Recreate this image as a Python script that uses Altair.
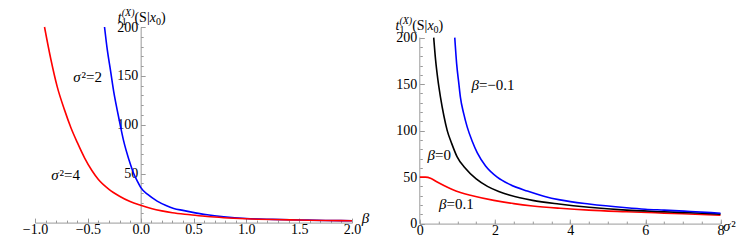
import altair as alt
import pandas as pd

# ---------------- data ----------------
# left panel: t1(S|x0) versus beta
beta_sigma2_2 = [-0.342, -0.315, -0.286, -0.255, -0.222, -0.19, -0.16, -0.11, -0.065, -0.03, 0.0,
                 0.07, 0.156, 0.24, 0.313, 0.4, 0.47, 0.63, 0.786, 1.0, 1.25, 1.5, 1.75, 2.0]
t_sigma2_2 = [200, 176, 156, 134, 115, 98, 83, 64, 50, 42, 36,
              28.5, 22, 17.5, 14.5, 12.5, 11, 8, 6, 4.2, 3.3, 2.7, 2.2, 1.9]
beta_sigma2_4 = [-0.91, -0.85, -0.79, -0.72, -0.66, -0.6, -0.53, -0.46, -0.4, -0.3, -0.2, -0.1, 0.0,
                 0.1, 0.2, 0.3, 0.47, 0.63, 0.786, 1.0, 1.25, 1.5, 1.75, 2.0]
t_sigma2_4 = [200, 167, 139, 115, 97, 82, 66, 53, 44, 34, 27, 21.5, 17.7,
              14.5, 12, 10, 8, 6.2, 5, 3.9, 3.1, 2.6, 2.2, 1.9]

# right panel: t1(S|x0) versus sigma^2
sigma2_beta_m01 = [0.93, 0.98, 1.04, 1.08, 1.17, 1.26, 1.4, 1.53, 1.75, 2.06, 2.4, 2.86, 3.3, 3.73,
                   4.5, 5.5, 6.0, 6.5, 7.2, 8.0]
t_beta_m01 = [200, 172, 150, 136, 118, 104, 88, 76, 62, 50, 42, 35, 29.5, 25.5,
              21, 17, 15.5, 14.5, 13, 11.2]
sigma2_beta_0 = [0.37, 0.42, 0.48, 0.55, 0.64, 0.73, 0.85, 0.99, 1.2, 1.5, 1.8, 2.1, 2.4, 3.0,
                 3.7, 4.5, 5.5, 6.5, 7.2, 8.0]
t_beta_0 = [200, 176, 155, 136, 116, 100, 86, 72, 60, 48, 40, 34.5, 30.5, 25,
            21, 17.5, 14.5, 12.8, 11.6, 10.2]
sigma2_beta_01 = [0.0, 0.15, 0.3, 0.45, 0.64, 0.85, 1.08, 1.4, 1.97, 2.5, 3.0, 3.73, 4.5, 5.5, 6.5, 8.0]
t_beta_01 = [50, 50, 48.5, 45, 41, 37, 33.5, 30, 25, 21.5, 19, 16.5, 14.5, 12.8, 11.3, 9]

# ticks
left_x_ticks = [-1.0, -0.5, 0.0, 0.5, 1.0, 1.5, 2.0]
left_x_minor = [round(-1.0 + 0.1 * i, 1) for i in range(31)]
left_y_ticks = [50, 100, 150, 200]
left_y_minor = list(range(10, 201, 10))
right_x_ticks = [0, 2, 4, 6, 8]
right_x_minor = [0.5 * i for i in range(17)]
right_y_ticks = [0, 50, 100, 150, 200]
right_y_minor = list(range(0, 201, 10))

# annotations (text, data position)
left_labels = [([("σ", True), ("²=2", False)], -0.501, 148.9),
               ([("σ", True), ("²=4", False)], -0.711, 48.4)]
right_labels = [([("β", True), ("=−0.1", False)], 1.947, 148.7),
                ([("β", True), ("=0", False)], 0.516, 73.4),
                ([("β", True), ("=0.1", False)], 0.971, 21.5)]

# ---------------- style ----------------
FONT = "Liberation Serif, Times New Roman, DejaVu Serif, serif"
GRAY = "#9a9a9a"
LW, LH = 317, 195.6
RW, RH = 300.7, 196.6
L_XDOM, L_YDOM = [-1.0, 2.0], [0, 200]
R_XDOM, R_YDOM = [0, 8], [0, 211.4]
L_X0 = LW * (0 - L_XDOM[0]) / (L_XDOM[1] - L_XDOM[0])

W_REG = {"0": .5, "1": .5, "2": .5, "4": .5, ".": .25, "=": .564, "−": .564, "(": .333, ")": .333,
         "S": .556, "|": .2, "²": .3}
W_IT = {"σ": .55, "β": .5, "t": .278, "x": .444, "X": .611, "(": .333, ")": .333}


def tw(s, italic, size):
    tab = W_IT if italic else W_REG
    return sum(tab.get(c, .5) for c in s) * size


def ax(orient, values, offset=0, labels=False, ticks=False, tick_size=0, domain=False, fmt=None, pad=0):
    kw = dict(orient=orient, values=values, offset=offset, labels=labels, ticks=ticks, tickSize=tick_size,
              domain=domain, domainColor=GRAY, domainWidth=1, tickColor=GRAY, tickWidth=1, grid=False,
              title=None, labelFont=FONT, labelFontSize=14, labelColor="black", labelPadding=pad,
              labelFlush=False, labelOverlap=False)
    if fmt:
        kw["format"] = fmt
    return alt.Axis(**kw)


def sc(dom):
    return alt.Scale(domain=dom, nice=False, zero=False)


def curve(xs, ys, color, xdom, ydom, xaxis=None, yaxis=None, opacity=1.0):
    df = pd.DataFrame({"x": xs, "y": ys})
    return alt.Chart(df).mark_line(color=color, strokeWidth=1.6, interpolate="monotone",
                                   opacity=opacity).encode(
        x=alt.X("x:Q", scale=sc(xdom), axis=xaxis),
        y=alt.Y("y:Q", scale=sc(ydom), axis=yaxis))


def rich(parts, x, y, size, xdom, ydom):
    total = sum(tw(t, it, size) for t, it in parts)
    cur = -total / 2
    df = pd.DataFrame({"x": [x], "y": [y]})
    out = []
    for t, it in parts:
        out.append(alt.Chart(df).mark_text(
            text=t, align="left", baseline="middle", dx=cur, font=FONT, fontSize=size,
            fontStyle="italic" if it else "normal", color="black").encode(
            x=alt.X("x:Q", scale=sc(xdom), axis=None),
            y=alt.Y("y:Q", scale=sc(ydom), axis=None)))
        cur += tw(t, it, size)
    return out


def ytitle(px, py):
    # t_1^{(X)}(S|x_0), built from pieces
    big, small = 14, 10
    pieces = []
    x = px
    pieces.append(("t", True, big, x, py))
    x += tw("t", True, big)
    pieces.append(("1", False, small, x, py + 3))
    pieces.append(("(X)", True, small, x, py - 6))
    x += tw("(X)", True, small)
    pieces.append(("(S|", False, big, x, py))
    x += tw("(S|", False, big)
    pieces.append(("x", True, big, x, py))
    x += tw("x", True, big)
    pieces.append(("0", False, small, x, py + 3))
    x += tw("0", False, small)
    pieces.append((")", False, big, x, py))
    one = pd.DataFrame({"a": [0]})
    return [alt.Chart(one).mark_text(text=t, align="left", baseline="alphabetic", font=FONT, fontSize=s,
                                     fontStyle="italic" if it else "normal", color="black").encode(
        x=alt.value(xx), y=alt.value(yy)) for t, it, s, xx, yy in pieces]


# ---------------- left panel ----------------
left_layers = [
    curve(beta_sigma2_2, t_sigma2_2, "#0000ff", L_XDOM, L_YDOM,
          xaxis=ax("bottom", left_x_ticks, labels=True, domain=True, fmt=".1f", pad=0),
          yaxis=ax("left", left_y_ticks, offset=-L_X0, labels=True, domain=True, fmt="d", pad=3)),
    curve(beta_sigma2_4, t_sigma2_4, "#ff0000", L_XDOM, L_YDOM,
          xaxis=ax("top", left_x_ticks, offset=-LH, ticks=True, tick_size=4.5),
          yaxis=ax("right", left_y_ticks, offset=-(LW - L_X0), ticks=True, tick_size=4.5)),
    curve(beta_sigma2_4, t_sigma2_4, "#ff0000", L_XDOM, L_YDOM, opacity=0.0,
          xaxis=ax("top", left_x_minor, offset=-LH, ticks=True, tick_size=2.5),
          yaxis=ax("right", left_y_minor, offset=-(LW - L_X0), ticks=True, tick_size=2.5)),
]
for parts, x, y in left_labels:
    left_layers += rich(parts, x, y, 15, L_XDOM, L_YDOM)
left_layers += rich([("β", True)], 2.127, 4.9, 15, L_XDOM, L_YDOM)
left_layers += ytitle(82.8, -5.4)

left = alt.layer(*left_layers).resolve_axis(x="independent", y="independent").properties(width=LW, height=LH)

# ---------------- right panel ----------------
axis_line = alt.Chart(pd.DataFrame({"x": [0], "y": [0], "y2": [200]})).mark_rule(
    color=GRAY, strokeWidth=1).encode(
    x=alt.X("x:Q", scale=sc(R_XDOM), axis=None),
    y=alt.Y("y:Q", scale=sc(R_YDOM), axis=None), y2="y2:Q")

right_layers = [
    axis_line,
    curve(sigma2_beta_01, t_beta_01, "#ff0000", R_XDOM, R_YDOM,
          xaxis=ax("bottom", right_x_ticks, labels=True, domain=True, fmt="d", pad=0),
          yaxis=ax("left", right_y_ticks, labels=True, fmt="d", pad=3)),
    curve(sigma2_beta_0, t_beta_0, "#000000", R_XDOM, R_YDOM,
          xaxis=ax("top", right_x_ticks, offset=-RH, ticks=True, tick_size=4.5),
          yaxis=ax("right", right_y_ticks, offset=-RW, ticks=True, tick_size=4.5)),
    curve(sigma2_beta_m01, t_beta_m01, "#0000ff", R_XDOM, R_YDOM,
          xaxis=ax("top", right_x_minor, offset=-RH, ticks=True, tick_size=2.5),
          yaxis=ax("right", right_y_minor, offset=-RW, ticks=True, tick_size=2.5)),
]
for parts, x, y in right_labels:
    right_layers += rich(parts, x, y, 15, R_XDOM, R_YDOM)
right_layers += rich([("σ", True), ("²", False)], 8.237, -2.9, 15, R_XDOM, R_YDOM)
right_layers += ytitle(-24.3, 2.6)

right = alt.layer(*right_layers).resolve_axis(x="independent", y="independent").properties(width=RW, height=RH)

chart = alt.hconcat(left, right, spacing=67.8, bounds="flush").properties(
    padding={"left": 14, "top": -1, "right": 0, "bottom": 0}
).configure_view(stroke=None)

chart.save("out.html", embed_options={"renderer": "svg", "actions": False})
